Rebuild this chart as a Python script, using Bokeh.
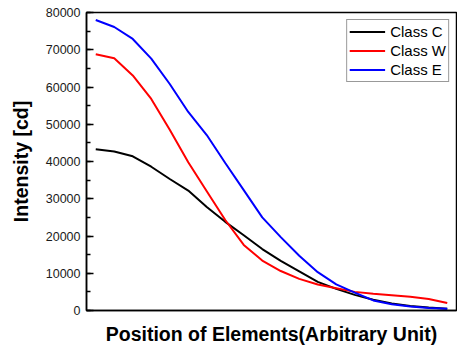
from bokeh.plotting import figure
from bokeh.models import Range1d, SingleIntervalTicker, FixedTicker, Legend, LegendItem
from bokeh.embed import file_html
from bokeh.resources import INLINE

positions = list(range(20))
class_c = [43300, 42700, 41400, 38600, 35300, 32200, 27800, 23800, 20200, 16500,
           13300, 10500, 7700, 5800, 4200, 2900, 1900, 1200, 800, 500]
class_w = [68800, 67700, 63100, 56800, 48500, 39800, 32000, 24300, 17600, 13400,
           10600, 8500, 7000, 6000, 5000, 4500, 4100, 3700, 3100, 2000]
class_e = [78000, 76100, 72900, 67600, 60800, 53300, 47100, 39600, 32300, 25000,
           19700, 14700, 10300, 7000, 4800, 2700, 1700, 1100, 700, 500]
series_names = ["Class C", "Class W", "Class E"]
series_colors = ["black", "red", "blue"]

FONT = "Liberation Sans"

p = figure(width=457, height=347, output_backend="svg", toolbar_location=None,
           x_range=Range1d(-0.5, 19.5), y_range=Range1d(0, 80000),
           min_border_left=86, min_border_top=12, min_border_right=1, min_border_bottom=36)

p.grid.visible = False
p.outline_line_color = "black"
p.outline_line_width = 1.5
p.background_fill_color = "white"
p.border_fill_color = "white"

renderers = []
for name, ys, col in zip(series_names, [class_c, class_w, class_e], series_colors):
    r = p.line(positions, ys, line_color=col, line_width=2)
    renderers.append((name, r))

# y axis
ya = p.yaxis[0]
ya.ticker = SingleIntervalTicker(interval=10000, num_minor_ticks=2)
ya.major_tick_in = 7
ya.major_tick_out = 0
ya.minor_tick_in = 4
ya.minor_tick_out = 0
ya.major_tick_line_width = 1.5
ya.minor_tick_line_width = 1.5
ya.axis_line_width = 1.5
ya.axis_line_color = "black"
ya.major_tick_line_color = "black"
ya.minor_tick_line_color = "black"
ya.major_label_standoff = 6
ya.major_label_text_font = FONT
ya.major_label_text_font_size = "12.5px"
ya.major_label_text_color = "#1a1a1a"
ya.axis_label = "Intensity [cd]"
ya.axis_label_text_font = FONT
ya.axis_label_text_font_size = "19.5px"
ya.axis_label_text_font_style = "bold"
ya.axis_label_text_color = "black"
ya.axis_label_standoff = 11
ya.formatter.use_scientific = False

# x axis
xa = p.xaxis[0]
xa.ticker = FixedTicker(ticks=[])
xa.major_tick_in = 0
xa.major_tick_out = 0
xa.minor_tick_in = 0
xa.minor_tick_out = 0
xa.axis_line_width = 1.5
xa.axis_line_color = "black"
xa.major_label_text_font_size = "0px"
xa.axis_label = "Position of Elements(Arbitrary Unit)"
xa.axis_label_text_font = FONT
xa.axis_label_text_font_size = "19.5px"
xa.axis_label_text_font_style = "bold"
xa.axis_label_text_color = "black"
xa.axis_label_standoff = 12

legend = Legend(items=[LegendItem(label=n, renderers=[r]) for n, r in renderers],
                location="top_right")
legend.margin = 7
legend.padding = 2
legend.spacing = 0
legend.label_height = 19
legend.glyph_height = 19
legend.glyph_width = 36
legend.label_standoff = 5
legend.label_text_font = FONT
legend.label_text_font_size = "15px"
legend.label_text_color = "black"
legend.border_line_color = "#333333"
legend.border_line_width = 1
legend.background_fill_alpha = 1
p.add_layout(legend)

open("out.html", "w").write(file_html(p, INLINE))
